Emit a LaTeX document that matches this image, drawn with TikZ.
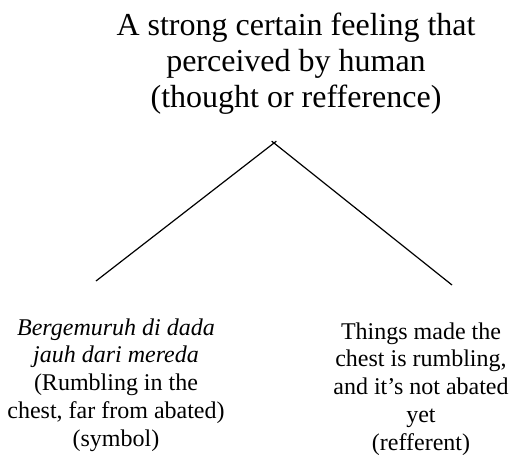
\documentclass[tikz,border=0pt]{standalone}
\usepackage{fontspec}
\setmainfont{Liberation Serif}

\begin{document}
\begin{tikzpicture}[x=1pt,y=-1pt]
            \useasboundingbox (0,0) rectangle (512,455);
            \begin{scope}[every node/.style={align=center,inner sep=0pt}]
                \node[font={\fontsize{32}{36}\selectfont}] (T) at (296, 64) {A strong certain feeling that\\ perceived by human\\ (thought or refference)};
                \node[font={\fontsize{24}{27.8}\selectfont}] (S) at (116, 385) {\textit{Bergemuruh di dada}\\ \textit{jauh dari mereda}\\ (Rumbling in the\\ chest, far from abated)\\ (symbol)};
                \node[font={\fontsize{24}{27.8}\selectfont}] (R) at (421, 389) {Things made the\\ chest is rumbling,\\ and it’s not abated\\ yet\\ (refferent)};
            \end{scope}
            \coordinate (A) at (274, 143);
            \coordinate (SL) at (96, 281);
            \coordinate (RL) at (452, 285);
            \path [-] (SL) edge[draw=black,line width=1.2pt,shorten >=-3pt] node {} (A);
            \path [-] (RL) edge[draw=black,line width=1.2pt,shorten >=-3pt] node {} (A);
        \end{tikzpicture}
\end{document}
